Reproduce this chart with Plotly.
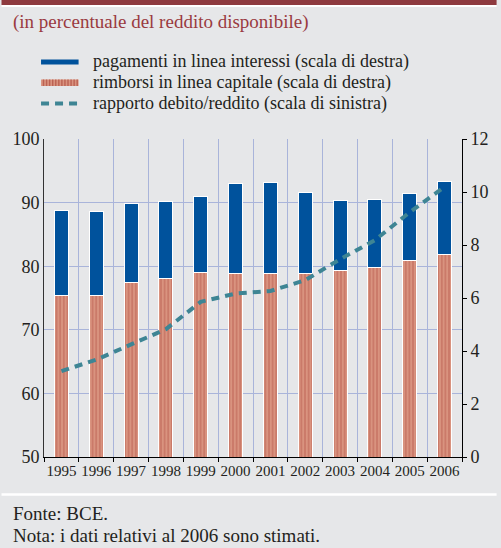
import plotly.graph_objects as go

years = ["1995", "1996", "1997", "1998", "1999", "2000", "2001", "2002", "2003", "2004", "2005", "2006"]
rimborsi_capitale = [6.08, 6.11, 6.59, 6.74, 6.96, 6.93, 6.93, 6.93, 7.02, 7.16, 7.42, 7.65]
pagamenti_interessi = [3.24, 3.15, 2.98, 2.90, 2.88, 3.40, 3.42, 3.04, 2.67, 2.54, 2.54, 2.74]
debito_reddito = [63.5, 65.3, 67.7, 70.1, 74.4, 75.7, 76.1, 77.8, 81.1, 84.1, 88.5, 92.5]

W, H = 501, 548
ML, MR, MT, MB = 43, 35, 139, 91
PW, PH = W - ML - MR, H - MT - MB

def px(x):
    return (x - ML) / PW

def py(y):
    return (H - MB - y) / PH

FONT = "'Liberation Serif', 'Times New Roman', 'DejaVu Serif', serif"
TXT = "#231f20"
BG = "#e6e7e9"
GRID = "#a9b4da"
BLUE = "#00529c"
TEAL = "#3e8594"
RED_BG = "#d9937f"
RED_FG = "#bb6253"

fig = go.Figure()
fig.add_trace(go.Bar(
    x=years, y=rimborsi_capitale, name="rimborsi in linea capitale (scala di destra)",
    marker=dict(color=RED_BG,
                pattern=dict(shape="|", fgcolor=RED_FG, bgcolor=RED_BG, size=3.6, solidity=0.5),
                line=dict(color="white", width=1)),
    yaxis="y", showlegend=False))
fig.add_trace(go.Bar(
    x=years, y=pagamenti_interessi, name="pagamenti in linea interessi (scala di destra)",
    marker=dict(color=BLUE, line=dict(color="white", width=1)),
    yaxis="y", showlegend=False))
fig.add_trace(go.Scatter(
    x=years, y=debito_reddito, name="rapporto debito/reddito (scala di sinistra)",
    mode="lines", line=dict(color=TEAL, width=4, dash="8px,6px"),
    yaxis="y2", showlegend=False))

shapes = []
# top band
shapes.append(dict(type="rect", xref="paper", yref="paper", x0=px(0), x1=px(W), y0=py(0), y1=py(5),
                   fillcolor="#8e3a3f", line=dict(width=0), layer="above"))
shapes.append(dict(type="line", xref="paper", yref="paper", x0=px(0), x1=px(W), y0=py(6), y1=py(6),
                   line=dict(color="white", width=2)))
# bottom separator
shapes.append(dict(type="line", xref="paper", yref="paper", x0=px(0), x1=px(W), y0=py(494.5), y1=py(494.5),
                   line=dict(color="white", width=2.5)))
# legend symbols
shapes.append(dict(type="rect", xref="paper", yref="paper", x0=px(40), x1=px(78), y0=py(64.5), y1=py(59.5),
                   fillcolor=BLUE, line=dict(width=0)))
shapes.append(dict(type="rect", xref="paper", yref="paper", x0=px(40), x1=px(78), y0=py(86), y1=py(79.5),
                   fillcolor=RED_BG, line=dict(width=0)))
for i in range(12):
    xs = 42.5 + i * 3.1
    shapes.append(dict(type="line", xref="paper", yref="paper", x0=px(xs), x1=px(xs), y0=py(86), y1=py(79.5),
                       line=dict(color=RED_FG, width=1.4)))
shapes.append(dict(type="line", xref="paper", yref="paper", x0=px(40), x1=px(78), y0=py(103.5), y1=py(103.5),
                   line=dict(color=TEAL, width=4, dash="8px,6px")))

annotations = [
    dict(text="(in percentuale del reddito disponibile)", x=px(10), y=py(22), xref="paper", yref="paper",
         xanchor="left", yanchor="middle", showarrow=False, font=dict(family=FONT, size=19, color="#9a3a40")),
    dict(text="pagamenti in linea interessi (scala di destra)", x=px(91), y=py(62), xref="paper", yref="paper",
         xanchor="left", yanchor="middle", showarrow=False, font=dict(family=FONT, size=18, color=TXT)),
    dict(text="rimborsi in linea capitale (scala di destra)", x=px(91), y=py(82.5), xref="paper", yref="paper",
         xanchor="left", yanchor="middle", showarrow=False, font=dict(family=FONT, size=18, color=TXT)),
    dict(text="rapporto debito/reddito (scala di sinistra)", x=px(91), y=py(103), xref="paper", yref="paper",
         xanchor="left", yanchor="middle", showarrow=False, font=dict(family=FONT, size=18, color=TXT)),
    dict(text="Fonte: BCE.", x=px(10), y=py(513), xref="paper", yref="paper",
         xanchor="left", yanchor="middle", showarrow=False, font=dict(family=FONT, size=19, color=TXT)),
    dict(text="Nota: i dati relativi al 2006 sono stimati.", x=px(10), y=py(535), xref="paper", yref="paper",
         xanchor="left", yanchor="middle", showarrow=False, font=dict(family=FONT, size=19, color=TXT)),
]

fig.update_layout(
    width=W, height=H,
    margin=dict(l=ML, r=MR, t=MT, b=MB, pad=0),
    paper_bgcolor=BG, plot_bgcolor=BG,
    barmode="stack", bargap=0.6,
    font=dict(family=FONT, color=TXT),
    showlegend=False,
    xaxis=dict(type="category", tickson="boundaries", ticks="outside", ticklen=4, tickcolor="black",
               showline=True, linecolor="black", linewidth=1, showgrid=True, gridcolor=GRID, gridwidth=1,
               tickangle=0, tickfont=dict(family=FONT, size=15, color=TXT), zeroline=False),
    yaxis=dict(side="right", range=[0, 12], dtick=2, showgrid=False, zeroline=False, ticks="outside",
               ticklen=4, tickcolor="black", showline=True, linecolor="black", linewidth=1,
               tickfont=dict(family=FONT, size=18, color=TXT)),
    yaxis2=dict(overlaying="y", side="left", range=[50, 100], dtick=10, showgrid=True, gridcolor=GRID,
                gridwidth=1.2, zeroline=False, ticks="", showline=True, linecolor="#333333", linewidth=1,
                tickfont=dict(family=FONT, size=18, color=TXT)),
    shapes=shapes,
    annotations=annotations,
)

fig.write_html("out.html", config={"displayModeBar": False},
               post_script="document.body.style.margin='0';document.body.style.overflow='hidden';")
